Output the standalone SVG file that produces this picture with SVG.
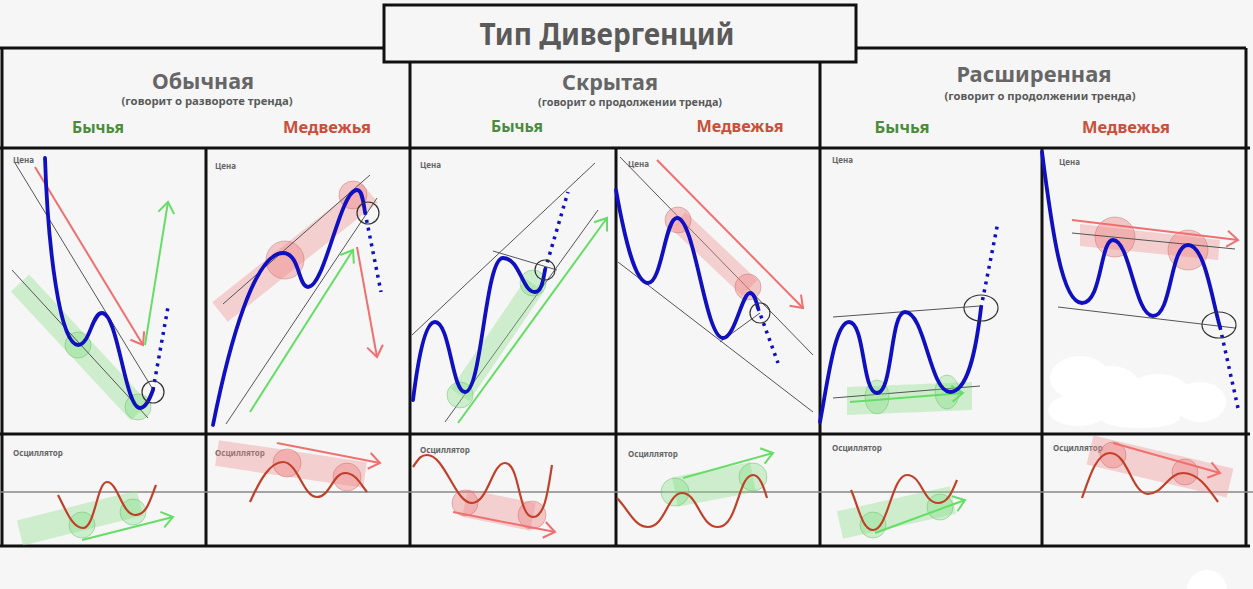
<svg xmlns="http://www.w3.org/2000/svg" width="1253" height="589" viewBox="0 0 1253 589">
<defs>
<marker id="ag" markerUnits="userSpaceOnUse" markerWidth="20" markerHeight="20" viewBox="0 0 20 20" refX="14" refY="10" orient="auto"><path d="M3,2 L14,10 L3,18" fill="none" stroke="#66dd66" stroke-width="2"/></marker>
<marker id="ar" markerUnits="userSpaceOnUse" markerWidth="20" markerHeight="20" viewBox="0 0 20 20" refX="14" refY="10" orient="auto"><path d="M3,2 L14,10 L3,18" fill="none" stroke="#f07070" stroke-width="2"/></marker>
</defs>
<style>
.frame{stroke:#111;stroke-width:3;fill:none}
.zero{stroke:#888;stroke-width:1.5;fill:none}
.thin{stroke:#555;stroke-width:1;fill:none}
.price{stroke:#1010c0;stroke-width:3.8;fill:none;stroke-linecap:round}
.dots{stroke:#1010c0;stroke-width:3.5;fill:none;stroke-dasharray:3 5}
.osc{stroke:#c0402a;stroke-width:2.2;fill:none}
.gband{stroke:#8ce08c;stroke-opacity:0.38;fill:none}
.rband{stroke:#f09090;stroke-opacity:0.38;fill:none}
.gc{fill:#7ee07e;fill-opacity:0.35;stroke:#60b060;stroke-opacity:0.4}
.rc{fill:#f08080;fill-opacity:0.4;stroke:#c06060;stroke-opacity:0.4}
.ring{fill:none;stroke:#333;stroke-width:1.2}
.garr{stroke:#66dd66;stroke-width:2;fill:none;marker-end:url(#ag)}
.rarr{stroke:#f07070;stroke-width:2;fill:none;marker-end:url(#ar)}
text{font-family:"Noto Sans","DejaVu Sans","Liberation Sans",sans-serif;font-weight:bold;fill:#5a5a5a}
.h1{font-size:30px}
.h2{font-size:22px;fill:#666}
.sub{font-size:10px}
.bull{font-size:16px;fill:#4b8b3b}
.bear{font-size:16px;fill:#c9503a}
.lbl{font-size:8px;fill:#666}
</style>
<rect width="1253" height="589" fill="#f6f6f6"/>

<g id="table">
<path class="frame" d="M0,48 H384 M857,48 H1246 M2,48 V546 M1246,48 V546 M410,62 V546 M820,62 V546 M206,148 V546 M616,148 V546 M1042,148 V546 M0,148 H1250 M0,434 H1250 M0,546 H1250"/>
<line class="zero" x1="0" y1="492" x2="1253" y2="492"/>
</g>

<g id="title">
<rect x="384" y="5" width="472" height="57" fill="#f6f6f6" stroke="#111" stroke-width="3"/>
<text class="h1" x="607" y="45" text-anchor="middle" textLength="255" lengthAdjust="spacingAndGlyphs">Тип Дивергенций</text>
</g>

<g id="header-regular">
<text class="h2" x="203" y="89" text-anchor="middle" textLength="102" lengthAdjust="spacingAndGlyphs">Обычная</text>
<text class="sub" x="207" y="105" text-anchor="middle" textLength="171" lengthAdjust="spacingAndGlyphs">(говорит о развороте тренда)</text>
<text class="bull" x="98" y="133" text-anchor="middle" textLength="52" lengthAdjust="spacingAndGlyphs">Бычья</text>
<text class="bear" x="327" y="133" text-anchor="middle" textLength="88" lengthAdjust="spacingAndGlyphs">Медвежья</text>
</g>
<g id="header-hidden">
<text class="h2" x="610" y="90" text-anchor="middle" textLength="96" lengthAdjust="spacingAndGlyphs">Скрытая</text>
<text class="sub" x="630" y="106" text-anchor="middle" textLength="184" lengthAdjust="spacingAndGlyphs">(говорит о продолжении тренда)</text>
<text class="bull" x="517" y="132" text-anchor="middle" textLength="52" lengthAdjust="spacingAndGlyphs">Бычья</text>
<text class="bear" x="740" y="132" text-anchor="middle" textLength="87" lengthAdjust="spacingAndGlyphs">Медвежья</text>
</g>
<g id="header-extended">
<text class="h2" x="1034" y="82" text-anchor="middle" textLength="155" lengthAdjust="spacingAndGlyphs">Расширенная</text>
<text class="sub" x="1040" y="100" text-anchor="middle" textLength="191" lengthAdjust="spacingAndGlyphs">(говорит о продолжении тренда)</text>
<text class="bull" x="902" y="133" text-anchor="middle" textLength="55" lengthAdjust="spacingAndGlyphs">Бычья</text>
<text class="bear" x="1126" y="133" text-anchor="middle" textLength="88" lengthAdjust="spacingAndGlyphs">Медвежья</text>
</g>

<g id="price-regular-bull">
<text class="lbl" x="13" y="163">Цена</text>
<line class="gband" x1="20" y1="283" x2="140" y2="412" stroke-width="25"/>
<circle class="gc" cx="78" cy="345" r="13"/>
<circle class="gc" cx="138" cy="407" r="13"/>
<line class="thin" x1="15" y1="163" x2="152" y2="388"/>
<line class="thin" x1="12" y1="270" x2="148" y2="418"/>
<path class="rarr" d="M35,167 L143,345"/>
<path class="garr" d="M145,345 L168,202"/>
<path class="price" d="M45,158 C48,250 60,345 78,345 C90,345 92,313 102,313 C118,313 125,408 140,408 C146,408 150,398 153,390"/>
<path class="dots" d="M153,390 L168,307"/>
<circle class="ring" cx="153" cy="392" r="11"/>
</g>

<g id="price-regular-bear">
<text class="lbl" x="215" y="169">Цена</text>
<line class="rband" x1="220" y1="312" x2="370" y2="193" stroke-width="25"/>
<circle class="rc" cx="285" cy="260" r="19"/>
<circle class="rc" cx="353" cy="195" r="14"/>
<line class="thin" x1="223" y1="304" x2="370" y2="175"/>
<line class="thin" x1="226" y1="424" x2="377" y2="198"/>
<path class="garr" d="M250,412 L353,250"/>
<path class="rarr" d="M357,247 L377,357"/>
<path class="price" d="M213,425 C230,340 255,253 283,253 C300,253 298,287 308,287 C325,287 340,190 357,190 C362,190 363,200 365,212"/>
<path class="dots" d="M365,212 L381,292"/>
<circle class="ring" cx="368" cy="213" r="11"/>
</g>

<g id="price-hidden-bull">
<text class="lbl" x="420" y="168">Цена</text>
<line class="thin" x1="412" y1="335" x2="595" y2="163"/>
<line class="thin" x1="445" y1="422" x2="598" y2="210"/>
<line class="thin" x1="493" y1="251" x2="557" y2="270"/>
<line class="gband" x1="460" y1="395" x2="535" y2="285" stroke-width="22"/>
<circle class="gc" cx="460" cy="395" r="13"/>
<circle class="gc" cx="533" cy="283" r="13"/>
<path class="garr" d="M458,423 L607,218"/>
<path class="price" d="M413,400 C418,360 425,322 435,322 C450,322 452,392 465,392 C482,392 485,258 503,258 C520,258 522,292 535,292 C541,292 543,282 545,270"/>
<path class="dots" d="M545,270 L568,192"/>
<circle class="ring" cx="545" cy="270" r="10"/>
</g>

<g id="price-hidden-bear">
<text class="lbl" x="628" y="167">Цена</text>
<line class="thin" x1="620" y1="157" x2="813" y2="355"/>
<line class="thin" x1="618" y1="262" x2="813" y2="412"/>
<line class="thin" x1="720" y1="342" x2="760" y2="313"/>
<line class="rband" x1="678" y1="220" x2="750" y2="288" stroke-width="22"/>
<circle class="rc" cx="678" cy="220" r="13"/>
<circle class="rc" cx="748" cy="287" r="13"/>
<path class="rarr" d="M657,160 L803,308"/>
<path class="price" d="M616,190 C625,240 635,283 648,283 C662,283 665,218 677,218 C695,218 705,338 723,338 C735,338 742,293 750,293 C754,293 756,300 758,308"/>
<path class="dots" d="M758,308 L778,363"/>
<circle class="ring" cx="760" cy="313" r="10"/>
</g>

<g id="price-extended-bull">
<text class="lbl" x="832" y="163">Цена</text>
<line class="thin" x1="833" y1="317" x2="980" y2="306"/>
<polygon points="847,387 972,382 972,410 847,415" fill="#8ce08c" fill-opacity="0.38"/>
<line class="thin" x1="833" y1="398" x2="980" y2="386"/>
<ellipse class="gc" cx="877" cy="397" rx="12" ry="17"/>
<ellipse class="gc" cx="947" cy="392" rx="12" ry="17"/>
<path class="garr" d="M850,402 L963,393"/>
<path class="price" d="M820,422 C828,380 835,322 849,322 C865,322 862,393 877,393 C893,393 890,312 905,312 C925,312 930,392 950,392 C968,392 976,350 981,308"/>
<path class="dots" d="M981,308 L998,222"/>
<ellipse class="ring" cx="981" cy="308" rx="17" ry="13"/>
</g>

<g id="price-extended-bear">
<text class="lbl" x="1059" y="165">Цена</text>
<polygon points="1080,224 1220,240 1218,260 1080,246" fill="#f09090" fill-opacity="0.38"/>
<circle class="rc" cx="1115" cy="237" r="20"/>
<circle class="rc" cx="1188" cy="250" r="20"/>
<line class="thin" x1="1072" y1="233" x2="1235" y2="249"/>
<path class="rarr" d="M1072,220 L1238,240"/>
<line class="thin" x1="1058" y1="307" x2="1235" y2="328"/>
<path class="price" d="M1042,152 C1052,230 1062,303 1082,303 C1102,303 1100,240 1113,240 C1130,240 1135,316 1153,316 C1172,316 1170,245 1188,245 C1205,245 1212,300 1220,327"/>
<path class="dots" d="M1220,327 L1238,408"/>
<ellipse class="ring" cx="1219" cy="325" rx="17" ry="13"/>
<g fill="#ffffff">
<ellipse cx="1080" cy="378" rx="30" ry="22"/>
<ellipse cx="1112" cy="392" rx="30" ry="26"/>
<ellipse cx="1158" cy="398" rx="35" ry="24"/>
<ellipse cx="1200" cy="402" rx="26" ry="20"/>
<ellipse cx="1078" cy="410" rx="30" ry="16"/>
<ellipse cx="1140" cy="418" rx="40" ry="10"/>
</g>
</g>

<g id="osc-regular-bull">
<text class="lbl" x="13" y="456">Осциллятор</text>
<line class="gband" x1="20" y1="533" x2="140" y2="503" stroke-width="26"/>
<circle class="gc" cx="82" cy="525" r="13"/>
<circle class="gc" cx="133" cy="512" r="13"/>
<path class="garr" d="M82,540 L173,517"/>
<path class="osc" d="M58,495 C66,510 72,528 83,528 C95,528 97,482 107,482 C118,482 122,515 135,515 C147,515 150,500 156,485"/>
</g>

<g id="osc-regular-bear">
<text class="lbl" x="215" y="456">Осциллятор</text>
<line class="rband" x1="217" y1="453" x2="365" y2="475" stroke-width="26"/>
<circle class="rc" cx="287" cy="463" r="14"/>
<circle class="rc" cx="347" cy="477" r="14"/>
<path class="rarr" d="M277,443 L380,463"/>
<path class="osc" d="M250,502 C260,480 270,462 283,462 C298,462 303,497 317,497 C330,497 333,473 345,473 C355,473 360,483 367,492"/>
</g>

<g id="osc-hidden-bull">
<text class="lbl" x="420" y="453">Осциллятор</text>
<line class="rband" x1="465" y1="503" x2="533" y2="517" stroke-width="28"/>
<circle class="rc" cx="465" cy="503" r="13"/>
<circle class="rc" cx="532" cy="515" r="14"/>
<path class="rarr" d="M453,512 L555,532"/>
<path class="osc" d="M413,467 C418,460 420,455 427,455 C445,455 455,503 472,503 C488,503 492,463 505,463 C520,463 518,517 533,517 C545,517 548,490 552,465"/>
</g>

<g id="osc-hidden-bear">
<text class="lbl" x="628" y="457">Осциллятор</text>
<line class="gband" x1="675" y1="492" x2="753" y2="477" stroke-width="30"/>
<circle class="gc" cx="675" cy="492" r="14"/>
<circle class="gc" cx="753" cy="477" r="14"/>
<path class="garr" d="M683,478 L773,453"/>
<path class="osc" d="M617,498 C630,512 635,527 648,527 C665,527 668,493 682,493 C698,493 700,527 718,527 C738,527 738,475 753,475 C760,475 764,488 767,498"/>
</g>

<g id="osc-extended-bull">
<text class="lbl" x="832" y="451">Осциллятор</text>
<line class="gband" x1="840" y1="525" x2="953" y2="500" stroke-width="28"/>
<circle class="gc" cx="873" cy="525" r="13"/>
<circle class="gc" cx="940" cy="507" r="13"/>
<path class="garr" d="M875,533 L965,500"/>
<path class="osc" d="M851,490 C858,505 862,530 873,530 C888,530 892,475 907,475 C922,475 923,503 938,503 C948,503 952,492 957,480"/>
</g>

<g id="osc-extended-bear">
<text class="lbl" x="1053" y="451">Осциллятор</text>
<line class="rband" x1="1090" y1="450" x2="1230" y2="483" stroke-width="30"/>
<circle class="rc" cx="1113" cy="455" r="13"/>
<circle class="rc" cx="1185" cy="472" r="13"/>
<path class="rarr" d="M1113,443 L1220,473"/>
<path class="osc" d="M1082,498 C1090,475 1097,453 1110,453 C1128,453 1132,494 1148,494 C1163,494 1168,473 1183,473 C1198,473 1208,488 1218,502"/>
</g>

<circle cx="1207" cy="590" r="20" fill="#ffffff"/>
</svg>
